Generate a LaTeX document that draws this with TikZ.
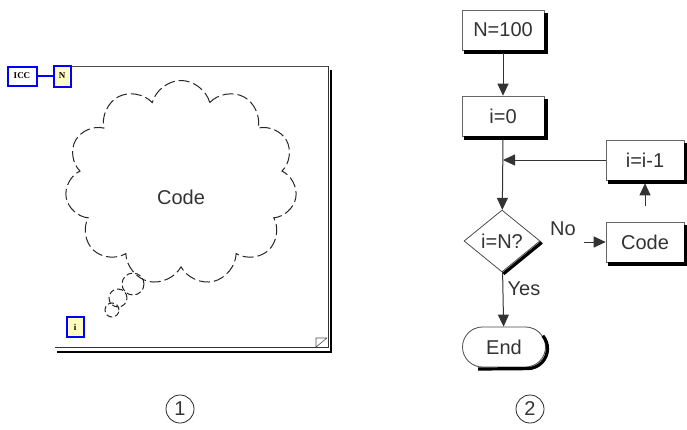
\documentclass[tikz,border=0pt]{standalone}
\usepackage{fontspec}
\setmainfont{Liberation Sans}
\newfontfamily\iconfont{Liberation Serif}
\usetikzlibrary{shapes.symbols,shapes.geometric,shapes.misc,arrows.meta}
\begin{document}
\begin{tikzpicture}[x=1pt,y=-1pt,
  txt/.style={font=\fontsize{20}{22}\selectfont, text=black!80},
  fbox/.style={txt, rectangle, draw=black!60, line width=0.6pt, fill=white,
    minimum width=82pt, minimum height=40pt, inner sep=0pt},
  fdia/.style={txt, diamond, draw=black!70, line width=0.8pt, fill=white,
    minimum width=76pt, minimum height=62pt, inner sep=0pt},
  fend/.style={txt, rounded rectangle, draw=black!70, line width=0.8pt, fill=white,
    minimum width=83pt, minimum height=40pt, inner sep=0pt},
  shl/.style={black, line width=3.2pt, line join=miter},
  arr/.style={black!80, line width=1pt, -{Triangle[length=12pt,width=11pt]}},
  lab/.style={txt, inner sep=1pt},
  dsh/.style={draw=black!85, line width=1pt, dash pattern=on 11pt off 4pt},
  icon/.style={draw=blue, line width=2pt, inner sep=0pt, font=\iconfont\bfseries\fontsize{9}{9}\selectfont},
  num/.style={circle, draw=black!85, line width=0.8pt, minimum size=28pt, inner sep=0pt, txt}
]
\useasboundingbox (0,0) rectangle (687,429);
% ---------------- panel 1: loop frame ----------------
\draw[black!70, line width=0.8pt] (70,66) -- (328,66);
\draw[black!80, line width=1pt] (328,66) -- (328,347) -- (55,347);
\draw[black, line width=2pt] (331,70) -- (331,352) -- (57,352);
\draw[black!70, line width=0.6pt] (316,347) -- (316,338) -- (327,338) (316,347) -- (327,338);
\node[icon, fill=white, minimum width=29pt, minimum height=19pt] (icc) at (22,76) {ICC};
\node[icon, fill=yellow!25, minimum width=17pt, minimum height=21pt] (nbox) at (62,76) {N};
\draw[blue, line width=1.5pt] (icc.east) -- (nbox.west);
\node[icon, fill=yellow!25, minimum width=17pt, minimum height=20pt] (ibox) at (75,327) {i};
% cloud
\node[cloud, dsh, cloud puffs=11, cloud ignores aspect, minimum width=232pt, minimum height=205pt] (cloud) at (181,183) {};
\node[txt] (codetxt) at (181,197) {Code};
\draw[dsh, dash pattern=on 6pt off 3pt] (133,284) circle (11pt);
\draw[dsh, dash pattern=on 6pt off 3pt] (118,298) circle (9pt);
\draw[dsh, dash pattern=on 6pt off 3pt] (112,310) circle (7pt);
\node[num] (c1) at (180,409) {1};
% ---------------- panel 2: flowchart ----------------
\node[fbox] (n100) at (503,30) {N=100};
\node[fbox] (i0) at (503,116) {i=0};
\node[fbox, minimum width=78pt] (inc) at (645,160) {i=i-1};
\node[fdia] (dia) at (502,241) {i=N?};
\node[fbox, minimum width=78pt] (code) at (645,242) {Code};
\node[fend] (endn) at (504,347) {End};
% shadows
\foreach \b in {n100,i0,inc,code}{
  \draw[shl] ([xshift=2pt,yshift=-1.6pt]\b.south west) -- ([xshift=1.6pt,yshift=-1.6pt]\b.south east)
    -- ([xshift=1.6pt,yshift=-3pt]\b.north east);
}
\draw[shl] ([xshift=1.4pt,yshift=-1.4pt]dia.east) -- ([xshift=1.4pt,yshift=-1.4pt]dia.south);
\draw[shl] ([xshift=-26pt,yshift=-1.6pt]endn.south) -- ([xshift=-18.4pt,yshift=-21.6pt]endn.east)
  arc[start angle=-90, end angle=40, radius=20pt];
\coordinate (junc) at (i0.south |- inc.west);
\coordinate (nofrom) at (584,242);
\coordinate (upfrom) at (645,206);
\draw[arr] ([yshift=-3pt]n100.south) -- (i0);
\draw[arr] ([yshift=-3pt]i0.south) -- (dia);
\draw[arr] (inc.west) -- (junc);
\draw[arr] (nofrom) -- (code.west);
\draw[arr] (upfrom) -- ([yshift=-3pt]inc.south);
\draw[arr] (dia) -- (endn);
\node[lab] (nolab) at (563,229) {No};
\node[lab] (yeslab) at (524,289) {Yes};
\node[num] (c2) at (530,409) {2};
\end{tikzpicture}
\end{document}
